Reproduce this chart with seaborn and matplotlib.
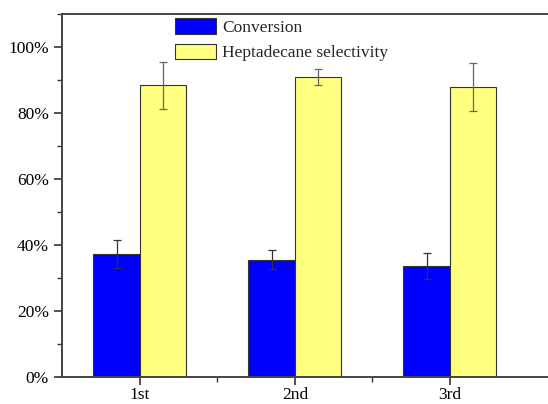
import matplotlib
matplotlib.use("Agg")
import matplotlib.pyplot as plt
import seaborn as sns
import pandas as pd
from matplotlib.ticker import FuncFormatter, MultipleLocator, FixedLocator
from matplotlib.patches import Patch

# data (percent)
runs = ["1st", "2nd", "3rd"]
conversion = [37.3, 35.6, 33.6]
conversion_err = [4.3, 2.8, 3.9]
selectivity = [88.4, 90.9, 87.9]
selectivity_err = [7.1, 2.4, 7.3]
series = ["Conversion", "Heptadecane selectivity"]
colors = ["#0000ff", "#ffff80"]

df = pd.DataFrame({
    "run": runs * 2,
    "value": conversion + selectivity,
    "series": [series[0]] * 3 + [series[1]] * 3,
})

sns.set_style("ticks")
plt.rcParams["font.family"] = ["Liberation Serif", "DejaVu Serif"]

fig = plt.figure(figsize=(5.48, 4.04), dpi=100)
ax = fig.add_axes([62 / 548, 27 / 404, 496 / 548, 363 / 404])

sns.barplot(data=df, x="run", y="value", hue="series", palette=colors,
            saturation=1, width=0.6, errorbar=None, edgecolor="#333333",
            linewidth=0.8, legend=False, ax=ax)

# error bars on the bar centres
for cont, err, ecol in zip(ax.containers, [conversion_err, selectivity_err], ["#333333", "#666666"]):
    xs = [b.get_x() + b.get_width() / 2 for b in cont]
    ys = [b.get_height() for b in cont]
    ax.errorbar(xs, ys, yerr=err, fmt="none", ecolor=ecol, elinewidth=0.9,
                capsize=3, capthick=0.9)

ax.set_xlim(-0.503, -0.503 + 496 / 155)
ax.set_ylim(0, 110)
ax.set_xlabel("")
ax.set_ylabel("")
ax.yaxis.set_major_locator(MultipleLocator(20))
ax.yaxis.set_minor_locator(MultipleLocator(10))
ax.yaxis.set_major_formatter(FuncFormatter(lambda v, p: "%d%%" % v if v <= 100 else ""))
ax.xaxis.set_minor_locator(FixedLocator([0.5, 1.5]))

for s in ["left", "bottom", "top", "right"]:
    ax.spines[s].set_color("#444444")
    ax.spines[s].set_linewidth(1.4)
ax.tick_params(which="major", direction="out", length=6, width=1.2, color="#333333",
               labelsize=12.5, labelcolor="black")
ax.tick_params(which="minor", direction="out", length=3.5, width=1.0, color="#333333")
ax.tick_params(axis="y", which="both", right=False)
ax.tick_params(axis="x", which="both", top=False)
ax.tick_params(axis="x", which="major", pad=1.5)

handles = [Patch(facecolor=c, edgecolor="#333333", linewidth=0.8) for c in colors]
ax.legend(handles, series, loc="upper left", bbox_to_anchor=(175 / 548, 1 - 18 / 404),
          bbox_transform=fig.transFigure, frameon=False, fontsize=12.5,
          handlelength=2.35, handleheight=1.0, labelspacing=0.45,
          handletextpad=0.35, borderpad=0, borderaxespad=0)

fig.savefig("out.png", dpi=100)
